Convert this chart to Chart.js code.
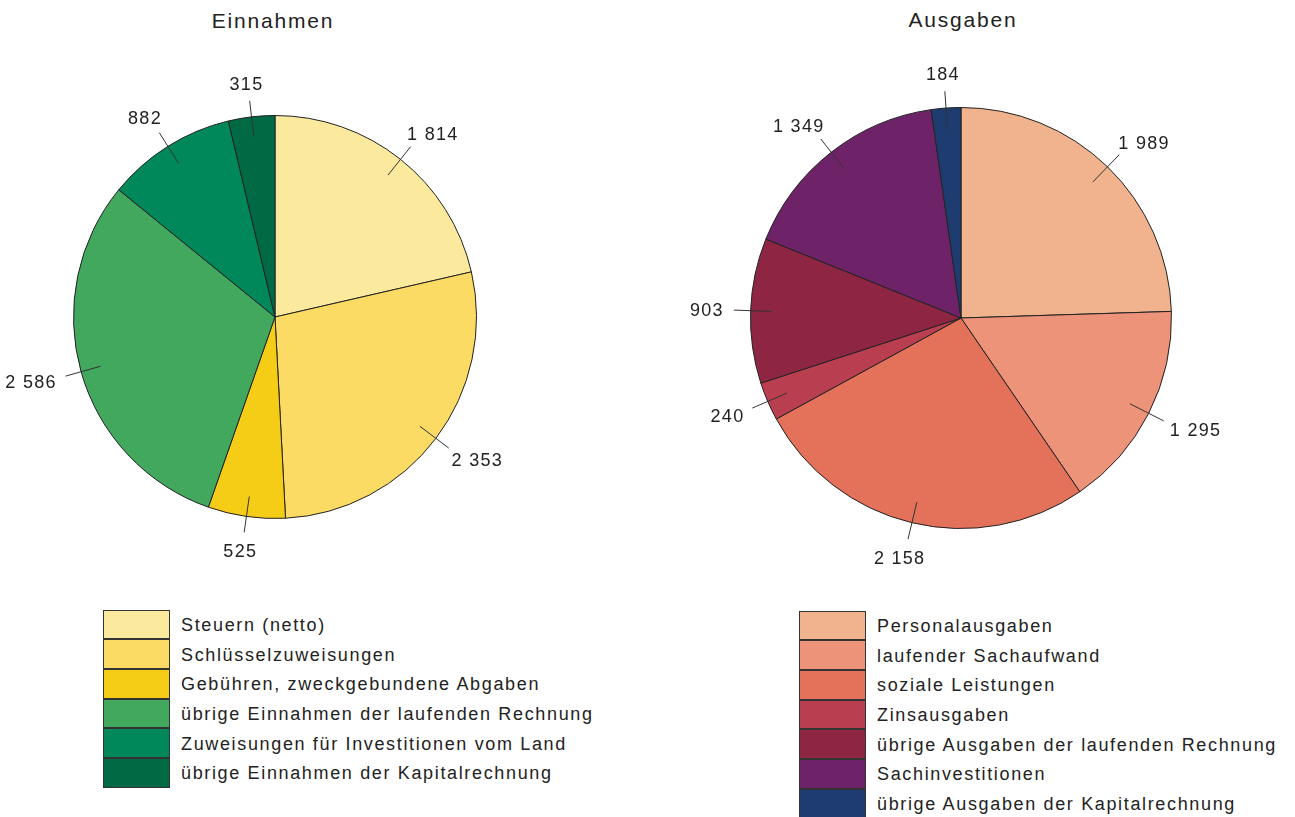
<!DOCTYPE html>
<html>
<head>
<meta charset="utf-8">
<script src="https://cdn.jsdelivr.net/npm/chart.js@4/dist/chart.umd.min.js"></script>
<style>
  body { margin: 0; background: #fff; font-family: "Liberation Sans", Arial, sans-serif; color: #222; }
  .wrap { position: relative; width: 1295px; height: 817px; overflow: hidden; }
  .title { position: absolute; font-size: 21px; letter-spacing: 1.8px; transform: translateX(-50%); }
  .box { position: absolute; }
  .legend { position: absolute; }
  .row { position: relative; height: 29.7px; }
  .sw { position: absolute; left: 0; top: 0; width: 67px; height: 29.7px; box-sizing: border-box; border: 1px solid #333; margin-top: -0.5px; }
  .lt { position: absolute; left: 78px; top: 5px; font-size: 18px; letter-spacing: 1.65px; white-space: nowrap; }
</style>
</head>
<body>
<div class="wrap">
  <div class="title" style="left:273px; top:9px;">Einnahmen</div>
  <div class="title" style="left:963px; top:8px;">Ausgaben</div>
  <div class="box" style="left:0; top:0; width:550px; height:600px;"><canvas id="pieIn"></canvas></div>
  <div class="box" style="left:690px; top:0; width:542px; height:600px;"><canvas id="pieOut"></canvas></div>
  <div class="legend" id="legIn" style="left:103px; top:610px;"></div>
  <div class="legend" id="legOut" style="left:799px; top:611px;"></div>
</div>
<script>
// Einnahmen
const inLabels = ['Steuern (netto)', 'Schlüsselzuweisungen', 'Gebühren, zweckgebundene Abgaben',
  'übrige Einnahmen der laufenden Rechnung', 'Zuweisungen für Investitionen vom Land',
  'übrige Einnahmen der Kapitalrechnung'];
const inValues = [1814, 2353, 525, 2586, 882, 315];
const inColors = ['#FBEA9E', '#FBDB63', '#F6CD16', '#42A85E', '#00885A', '#006A44'];

// Ausgaben
const outLabels = ['Personalausgaben', 'laufender Sachaufwand', 'soziale Leistungen', 'Zinsausgaben',
  'übrige Ausgaben der laufenden Rechnung', 'Sachinvestitionen', 'übrige Ausgaben der Kapitalrechnung'];
const outValues = [1989, 1295, 2158, 240, 903, 1349, 184];
const outColors = ['#F1B38D', '#EC937A', '#E4715A', '#B93F50', '#8D2543', '#6E2369', '#1E3C70'];

function fmt(v) {
  return String(v).replace(/\B(?=(\d{3})+(?!\d))/g, ' ');
}

const outsideLabels = {
  id: 'outsideLabels',
  afterDraw(chart) {
    const ctx = chart.ctx;
    const meta = chart.getDatasetMeta(0);
    const values = chart.data.datasets[0].data;
    ctx.save();
    ctx.font = '18px "Liberation Sans", Arial, sans-serif';
    ctx.letterSpacing = '1.3px';
    ctx.fillStyle = '#222';
    ctx.strokeStyle = '#333';
    ctx.lineWidth = 1;
    ctx.textAlign = 'center';
    ctx.textBaseline = 'middle';
    meta.data.forEach(function (arc, i) {
      const p = arc.getProps(['x', 'y', 'startAngle', 'endAngle', 'outerRadius'], true);
      const mid = (p.startAngle + p.endAngle) / 2;
      const ux = Math.cos(mid), uy = Math.sin(mid);
      const r = p.outerRadius;
      const x1 = p.x + ux * r * 0.9, y1 = p.y + uy * r * 0.9;
      const x2 = p.x + ux * r * 1.08, y2 = p.y + uy * r * 1.08;
      ctx.beginPath();
      ctx.moveTo(x1, y1);
      ctx.lineTo(x2, y2);
      ctx.stroke();
      const txt = fmt(values[i]);
      const w = ctx.measureText(txt).width;
      ctx.fillText(txt, x2 + ux * (w / 2 + 10), y2 + uy * 18 + 2);
    });
    ctx.restore();
  }
};

function makePie(id, labels, values, colors, pad) {
  return new Chart(document.getElementById(id), {
    type: 'pie',
    data: {
      labels: labels,
      datasets: [{
        data: values,
        backgroundColor: colors,
        borderColor: '#222',
        borderWidth: 1
      }]
    },
    options: {
      responsive: true,
      maintainAspectRatio: false,
      animation: false,
      layout: { padding: pad },
      plugins: {
        legend: { display: false },
        tooltip: { enabled: false }
      }
    },
    plugins: [outsideLabels]
  });
}

function makeLegend(id, labels, colors) {
  const el = document.getElementById(id);
  labels.forEach(function (lab, i) {
    const row = document.createElement('div');
    row.className = 'row';
    row.innerHTML = '<div class="sw" style="background:' + colors[i] + '"></div><div class="lt">' + lab + '</div>';
    el.appendChild(row);
  });
}

makePie('pieIn', inLabels, inValues, inColors, { left: 73, right: 73, top: 115, bottom: 81 });
makePie('pieOut', outLabels, outValues, outColors, { left: 60, right: 60, top: 107, bottom: 71 });
makeLegend('legIn', inLabels, inColors);
makeLegend('legOut', outLabels, outColors);
</script>
</body>
</html>
